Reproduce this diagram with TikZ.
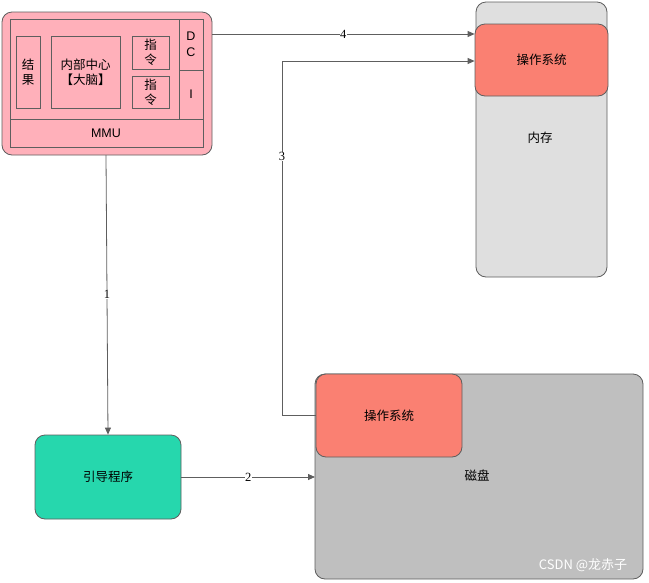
\documentclass[tikz,border=0pt]{standalone}
\usepackage{fontspec}
\setmainfont{Liberation Sans}
\newfontfamily\cjk{Noto Sans CJK SC}
\newfontfamily\numfont{Liberation Serif}
\usetikzlibrary{arrows.meta}
\definecolor{pinkf}{HTML}{FFB0BA}
\definecolor{memf}{HTML}{DFDFDF}
\definecolor{diskf}{HTML}{BFBFBF}
\definecolor{osf}{HTML}{FA8072}
\definecolor{bootf}{HTML}{26D7AD}
\definecolor{edge}{HTML}{5E5E5E}
\tikzset{
  box/.style={draw=edge, line width=0.8pt, rounded corners=10pt},
  cell/.style={draw=edge, line width=0.7pt, fill=pinkf},
  conn/.style={draw=edge, line width=0.8pt, -{Triangle[length=7pt,width=6pt]}},
  lbl/.style={fill=white, inner sep=0.5pt, font=\numfont\fontsize{12.5}{13}\selectfont},
  txt/.style={font=\cjk\fontsize{12.5}{15}\selectfont},
}
\begin{document}
\begin{tikzpicture}[x=1pt,y=-1pt]
\useasboundingbox (0,0) rectangle (649,582);
% MMU block
\draw[box, fill=pinkf] (2,12) rectangle (212,155);
\node[cell, minimum width=193pt, minimum height=128pt, anchor=north west] (inner) at (10,19) {};
\draw[edge, line width=0.7pt] (10,119) -- (203,119);
\draw[edge, line width=0.7pt] (179,19) -- (179,119);
\draw[edge, line width=0.7pt] (179,70) -- (203,70);
\node[font=\fontsize{12.5}{15}\selectfont, inner sep=0pt] (mmu) at (106,133) {MMU};
\node[font=\fontsize{12.5}{16}\selectfont, align=center, inner sep=0pt] (dc) at (191,44) {D\\C};
\node[font=\fontsize{12.5}{15}\selectfont, inner sep=0pt] (i) at (191,94) {I};
\node[cell, minimum width=24pt, minimum height=72pt, inner sep=0pt, align=center, txt] (res) at (28,72) {结\\果};
\node[cell, minimum width=69pt, minimum height=72pt, inner sep=0pt, align=center, txt] (core) at (85.5,72) {内部中心\\【大脑】};
\node[cell, minimum width=37pt, minimum height=33pt, inner sep=0pt, align=center, txt] (ins1) at (150.5,52.5) {指\\令};
\node[cell, minimum width=37pt, minimum height=32pt, inner sep=0pt, align=center, txt] (ins2) at (150.5,92) {指\\令};
\coordinate (mmuR) at (212,34);
\coordinate (mmuB) at (106,155);
% memory
\draw[box, fill=memf] (476,2) rectangle (607,277);
\node[txt] (mem) at (540,138) {内存};
\node[box, fill=osf, minimum width=133pt, minimum height=72pt, txt] (osm) at (541.5,60) {操作系统};
% disk
\draw[box, fill=diskf] (315,374) rectangle (643,579);
\node[txt] (disk) at (477,476) {磁盘};
\node[box, fill=osf, minimum width=146pt, minimum height=83pt, txt] (osd) at (389,415.5) {操作系统};
\node[font=\cjk\fontsize{13}{15}\selectfont, text=white] (wm) at (583,565) {CSDN @龙赤子};
% boot
\node[box, fill=bootf, minimum width=146pt, minimum height=84pt, txt] (boot) at (108,477) {引导程序};
% connectors
\draw[conn] (mmuB) -- node[lbl, pos=0.5] {1} (boot.north);
\draw[conn] (boot.east) -- node[lbl] {2} (315,477) coordinate (diskL);
\draw[conn] (osd.west) -- (282,415.5) -- node[lbl, pos=0.73] {3} (282,61) -- (osm.west |- 0,61);
\draw[conn] (mmuR) -- node[lbl] {4} (osm.west |- mmuR);
\end{tikzpicture}
\end{document}
